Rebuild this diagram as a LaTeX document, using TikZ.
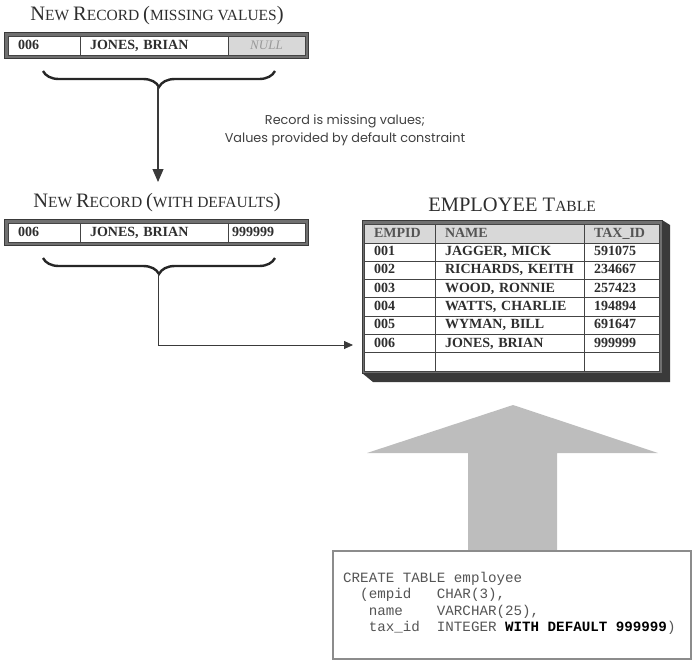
\documentclass[tikz,border=0pt]{standalone}
\usepackage{fontspec}
\setmainfont{Liberation Serif}
\setmonofont{Liberation Mono}
\newfontfamily\notefont{Poppins}
\usetikzlibrary{arrows.meta,decorations.pathreplacing}
\definecolor{cellline}{HTML}{444444}
\definecolor{celltext}{HTML}{2E2E2E}
\definecolor{framegray}{HTML}{707070}
\definecolor{shadowgray}{HTML}{3A3A3A}
\definecolor{headfill}{HTML}{D8D8D8}
\definecolor{headtext}{HTML}{555555}
\definecolor{arrowgray}{HTML}{BDBDBD}
\definecolor{codeline}{HTML}{8C8C8C}
\definecolor{codetext}{HTML}{555555}
\definecolor{notetext}{HTML}{404040}
\newcommand\bigch[1]{{\fontsize{20.5}{22}\selectfont #1}}

\begin{document}
\begin{tikzpicture}[x=1pt,y=-1pt]

\def\rowheight{18.3pt};
\def\cellgap{10pt};
\tikzset{
  table cell/.style={
    rectangle,
    draw=cellline,
    line width=1pt,
    fill=white,
    anchor=north west,
    inner xsep=\cellgap,
    inner ysep=0pt,
    text width=#1,
    text height=9.5pt,
    text depth=2.5pt,
    minimum height=\rowheight,
    font=\fontsize{14}{15}\selectfont\bfseries,
    text=celltext,
    outer sep=0
  },
  head cell/.style={table cell=#1, fill=headfill, text=headtext, minimum height=19pt},
  frame box/.style={rectangle, draw=shadowgray, fill=framegray, line width=.8pt,
    anchor=north west, inner sep=0, outer sep=0},
  title/.style={font=\fontsize{15.5}{18}\selectfont, text=celltext},
  connector/.style={draw=shadowgray, line width=1.1pt},
  curly/.style={decorate, decoration={brace, amplitude=16pt}, line width=2.4pt, draw=black!85},
  code line/.style={anchor=base west, inner sep=0, font=\ttfamily\fontsize{14.2}{16}\selectfont, text=codetext}
}

\useasboundingbox (0,0) rectangle (700,664);

\node[title] (title1) at (157,16) {\bigch{N}EW \bigch{R}ECORD \bigch{(}MISSING VALUES\bigch{)}};
\node[frame box, minimum width=304pt, minimum height=26pt] (rec1) at (4,32) {};
\node[table cell=52pt, minimum height=19pt] (rec1id) at (8,36) {006};
\node[table cell=128pt, minimum height=19pt] (rec1name) at (80,36) {JONES, BRIAN};
\node[table cell=57pt, minimum height=19pt, fill=headfill, align=center,
      font=\fontsize{13}{14}\selectfont\itshape, text=black!40] (rec1tax) at (228,36) {NULL};

\draw[curly] (275,71) -- (43,71);
\coordinate (tip1) at (158,87);
\coordinate (drop1) at (158,182);
\draw[connector, -{Triangle[length=13pt,width=11pt]}] (tip1) -- (drop1);

\node[align=center, font=\notefont\fontsize{12.8}{18}\selectfont, text=notetext] (note) at (345,130)
  {Record is missing values;\\Values provided by default constraint};

\node[title] (title2) at (157,203) {\bigch{N}EW \bigch{R}ECORD \bigch{(}WITH DEFAULTS\bigch{)}};
\node[frame box, minimum width=304pt, minimum height=26pt] (rec2) at (4,219) {};
\node[table cell=52pt, minimum height=19pt] (rec2id) at (8,223) {006};
\node[table cell=128pt, minimum height=19pt] (rec2name) at (80,223) {JONES, BRIAN};
\node[table cell=69pt, minimum height=19pt, inner xsep=4pt] (rec2tax) at (228,223) {999999};

\draw[curly] (275,258) -- (43,258);
\coordinate (tip2) at (158,274);
\coordinate (in) at (353,345);
\draw[connector, line width=.8pt, -{Triangle[length=9pt,width=8pt]}] (tip2) |- (in);

\node[title] (title3) at (512,205) {\bigch{EMPLOYEE T}ABLE};
\node[frame box, minimum width=300pt, minimum height=153pt] (tbl) at (362,220) {};
\fill[shadowgray] (tbl.north east) -- ++(8,5) -- ++(0,157) -- ([xshift=11pt,yshift=-9pt]tbl.south west)
  -- (tbl.south west) -- (tbl.south east) -- cycle;

\node[head cell=51pt] (id0) at (364,224) {EMPID};
\node[head cell=129pt] (name0) at (435,224) {NAME};
\node[head cell=55pt] (tax0) at (584,224) {TAX\_ID};

\foreach \id/\nm/\tax [count=\r] in {001/{JAGGER, MICK}/591075, 002/{RICHARDS, KEITH}/234667,
    003/{WOOD, RONNIE}/257423, 004/{WATTS, CHARLIE}/194894, 005/{WYMAN, BILL}/691647,
    006/{JONES, BRIAN}/999999, /{}/} {
  \node[table cell=51pt] (id\r) at (364,243+18.3*\r-18.3) {\id};
  \node[table cell=129pt] (name\r) at (435,243+18.3*\r-18.3) {\nm};
  \node[table cell=55pt] (tax\r) at (584,243+18.3*\r-18.3) {\tax};
}

\fill[arrowgray] (513,405) -- (658,453) -- (557,453) -- (557,552) -- (468,552) -- (468,453)
  -- (367,453) -- cycle;

\node[rectangle, draw=codeline, line width=1.5pt, fill=white, anchor=north west,
      minimum width=358pt, minimum height=108pt] (code) at (332,550) {};
\node[code line] (code1) at (343,582) {CREATE TABLE employee};
\node[code line] (code2) at (343,598.5) {~~(empid~~~CHAR(3),};
\node[code line] (code3) at (343,615) {~~~name~~~~VARCHAR(25),};
\node[code line] (code4) at (343,631.5) {~~~tax\_id~~INTEGER \textcolor{black}{\bfseries WITH DEFAULT 999999})};

\end{tikzpicture}
\end{document}
